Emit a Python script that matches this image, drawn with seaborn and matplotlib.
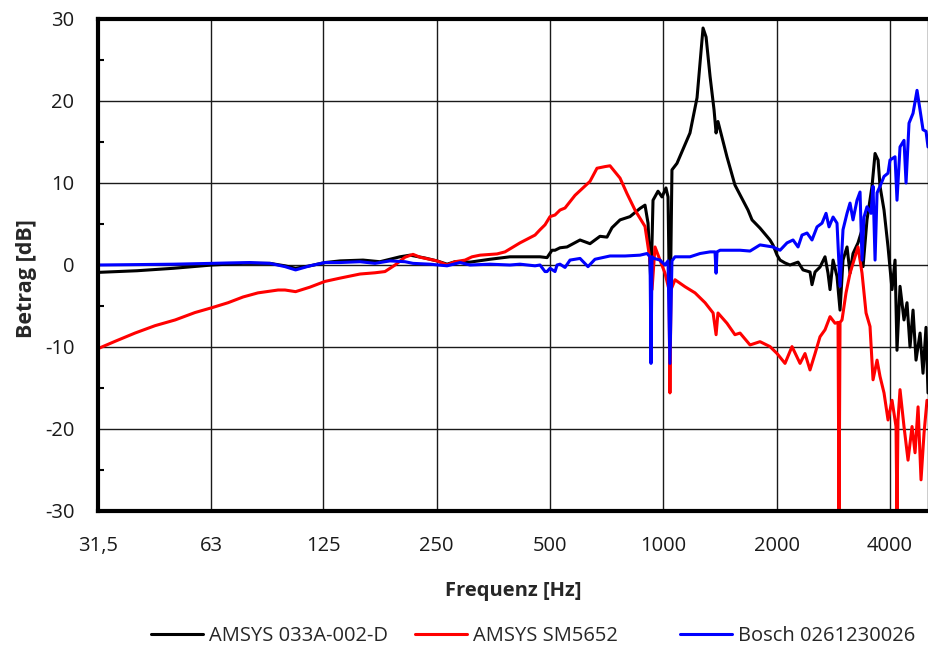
import numpy as np
import pandas as pd
import matplotlib
matplotlib.use("Agg")
import matplotlib.pyplot as plt
import seaborn as sns

# ---------------- data ----------------
freq_black = [31.5, 40, 50, 63.3, 76.5, 90.2, 98.9, 105.5, 115.2, 126.3, 138.5, 159.4,
              176.8, 199.8, 212.5, 232.9, 250.6, 266.5, 279.8, 306.7, 346.6, 391.7,
              442.8, 470.7, 491.3, 506.5, 515.9, 531.9, 555.2, 601.2, 639, 679.3, 709,
              731.1, 767.9, 816.2, 831.4, 867.8, 894.7, 911.4, 928.1, 939.6, 968.8,
              992.7, 1017, 1030, 1042, 1055, 1088, 1178, 1230, 1276, 1300, 1332, 1365,
              1382, 1398, 1477, 1551, 1680, 1722, 1808, 1922, 1957, 2007, 2044, 2107,
              2172, 2282, 2352, 2455, 2485, 2532, 2610, 2691, 2741, 2775, 2827, 2896,
              2950, 3004, 3079, 3136, 3194, 3293, 3375, 3396, 3479, 3588, 3655, 3723,
              3768, 3861, 3957, 4055, 4130, 4180, 4258, 4363, 4444, 4527, 4611, 4696,
              4813, 4901, 4992, 5053]
db_black = [-0.9, -0.7, -0.4, 0.0, 0.2, 0.2, -0.1, -0.4, -0.1, 0.3, 0.5, 0.6,
            0.4, 1.0, 1.2, 0.85, 0.5, 0.1, 0.4, 0.35, 0.7, 1.0,
            1.0, 1.0, 0.9, 1.8, 1.8, 2.1, 2.2, 3.05, 2.6, 3.5, 3.4,
            4.55, 5.5, 5.9, 6.2, 6.9, 7.3, 5.1, -2.5, 7.9, 9.0,
            8.3, 9.4, 8.3, -8.0, 11.6, 12.4, 16.1, 20.4, 28.9, 27.8, 23.0, 18.9,
            16.1, 17.5, 13.2, 9.75, 6.7, 5.5, 4.5, 3.05, 2.45, 1.2, 0.6, 0.25,
            0.0, 0.35, -0.6, -0.85, -2.4, -0.85, -0.25, 1.0, -1.0, -3.0, 0.6, -1.4,
            -5.5, 0.6, 2.2, -1.0, 1.4, 2.7, 4.3, -0.2, 5.5, 9.6, 13.6, 12.8,
            9.6, 6.7, 2.2, -3.0, 0.6, -10.4, -2.6, -6.7, -4.6, -10.0, -5.5, -11.6,
            -8.3, -13.2, -7.6, -15.6]

freq_red = [31.5, 35, 39.5, 44.65, 50.5, 57, 63.3, 69.8, 76.5, 83.8, 94.8, 98.9,
            105.5, 115.2, 126.3, 138.5, 156.5, 171.5, 182.3, 193.9, 206.1, 216.4,
            225.9, 250.6, 266.5, 279.8, 297.5, 310.5, 326.2, 361.8, 379.9, 416.4,
            456.5, 470.7, 485.3, 500.4, 515.9, 531.9, 548.4, 583.1, 639, 666.9, 700.4,
            722.2, 767.9, 801.5, 841.6, 894.7, 922.6, 933.9, 951.1, 980.6, 1011,
            1036, 1042, 1049, 1075, 1143, 1215, 1292, 1357, 1382, 1398, 1477, 1551,
            1600, 1701, 1808, 1922, 2007, 2107, 2199, 2310, 2381, 2455, 2532, 2610,
            2691, 2775, 2861, 2914, 2932, 2950, 2986, 3060, 3136, 3233, 3293, 3375,
            3459, 3544, 3610, 3700, 3768, 3861, 3957, 4055, 4155, 4180, 4205, 4258,
            4363, 4472, 4583, 4668, 4755, 4842, 4932, 5022]
db_red = [-10.2, -9.3, -8.3, -7.4, -6.7, -5.8, -5.2, -4.6, -3.9, -3.4, -3.05, -3.05,
          -3.25, -2.7, -2.0, -1.6, -1.1, -0.95, -0.8, 0.0, 0.95, 1.3,
          0.95, 0.5, 0.0, 0.4, 0.6, 1.0, 1.2, 1.35, 1.6, 2.7,
          3.65, 4.3, 4.9, 5.9, 6.1, 6.7, 6.95, 8.5, 10.2, 11.8, 12.0,
          12.1, 10.6, 8.7, 6.7, 4.7, 0.6, -3.0, 2.2, 0.6, -1.0,
          -3.0, -15.6, -3.0, -1.8, -2.65, -3.4, -4.6, -5.85, -8.5, -5.85, -7.1, -8.5,
          -8.3, -9.75, -9.35, -9.95, -10.8, -12.0, -9.95, -12.0, -10.8, -12.8, -10.8, -8.75,
          -7.9, -6.3, -7.1, -7.0, -31.0, -7.0, -6.7, -3.4, -1.0, 1.0, 2.2, -1.0,
          -5.85, -7.5, -14.0, -11.6, -13.6, -15.6, -18.9, -16.5, -19.7, -31.0, -19.0, -15.2,
          -19.7, -23.8, -19.7, -22.9, -17.3, -26.2, -20.5, -16.5]

freq_blue = [31.5, 40, 50, 63.3, 70, 79.8, 90.2, 98.9, 105.5, 115.2, 126.3, 138.5,
             156.5, 171.5, 188, 206.1, 216.4, 240.1, 266.5, 288.5, 306.7, 346.6,
             391.7, 416.4, 456.5, 470.7, 485.3, 491.3, 500.4, 515.9, 522.3, 531.9,
             548.4, 565.5, 601.2, 631.2, 658.8, 722.2, 791.6, 867.8, 905.7, 922.6,
             928.1, 933.9, 945.4, 980.6, 1011, 1030, 1042, 1055, 1075, 1178, 1253,
             1332, 1373, 1382, 1390, 1416, 1551, 1600, 1701, 1808, 1957, 2044, 2133,
             2213, 2282, 2338, 2411, 2485, 2563, 2642, 2708, 2758, 2827, 2896, 2950,
             3004, 3079, 3136, 3194, 3273, 3334, 3375, 3417, 3479, 3566, 3610, 3655,
             3700, 3768, 3861, 3957, 4005, 4130, 4180, 4258, 4363, 4418, 4499, 4611,
             4725, 4813, 4901, 4992, 5053]
db_blue = [0.0, 0.05, 0.1, 0.2, 0.25, 0.3, 0.2, -0.2, -0.6, -0.1, 0.3, 0.3,
           0.4, 0.2, 0.5, 0.4, 0.2, 0.1, -0.1, 0.3, 0.0, 0.1,
           0.0, 0.1, -0.1, 0.0, -0.8, -0.8, -0.4, -0.8, 0.0, 0.1,
           -0.3, 0.6, 0.8, -0.2, 0.7, 1.1, 1.1, 1.2, 1.4, 1.0,
           -12.0, 1.0, 0.8, 0.6, 0.0, 0.5, -12.0, 0.5, 1.0, 1.0, 1.4,
           1.6, 1.6, -1.0, 1.6, 1.8, 1.8, 1.8, 1.7, 2.45, 2.2, 1.8, 2.7,
           3.05, 2.2, 3.65, 3.9, 3.05, 4.65, 5.1, 6.3, 4.65, 5.85, 5.1, -2.6,
           4.3, 6.3, 7.55, 5.5, 7.9, 8.9, 0.6, 5.85, 7.1, 6.3, 9.6, 0.6,
           8.8, 9.6, 10.8, 11.2, 12.8, 13.2, 7.9, 14.4, 15.2, 10.0, 17.3, 18.5,
           21.3, 18.9, 16.5, 16.3, 14.4]

series_names = ["AMSYS 033A-002-D", "AMSYS SM5652", "Bosch 0261230026"]
series_colors = ["#000000", "#ff0000", "#0000ff"]

x_ticks = [31.5, 63, 125, 250, 500, 1000, 2000, 4000]
x_tick_labels = ["31,5", "63", "125", "250", "500", "1000", "2000", "4000"]
y_ticks = [-30, -20, -10, 0, 10, 20, 30]
y_tick_labels = ["-30", "-20", "-10", "0", "10", "20", "30"]

# ---------------- plotting ----------------
sns.set_theme(style="white")
plt.rcParams["font.family"] = ["Open Sans", "DejaVu Sans"]
plt.rcParams["axes.unicode_minus"] = False

FS = 14.5

fig = plt.figure(figsize=(9.29, 6.52), dpi=100)
ax = fig.add_axes([98 / 929, 1 - 511 / 652, 830 / 929, 492 / 652])

frames = [
    pd.DataFrame({"f": freq_black, "db": db_black}),
    pd.DataFrame({"f": freq_red, "db": db_red}),
    pd.DataFrame({"f": freq_blue, "db": db_blue}),
]
for df, name, col in zip(frames, series_names, series_colors):
    sns.lineplot(data=df, x="f", y="db", ax=ax, color=col, linewidth=2.2,
                 label=name, sort=False, estimator=None, legend=False)

ax.set_xscale("log")
ax.set_xlim(31.5, 5053)
ax.set_ylim(-30, 30)
ax.set_xticks(x_ticks)
ax.set_xticklabels(x_tick_labels)
ax.xaxis.set_minor_locator(matplotlib.ticker.NullLocator())
ax.set_yticks(y_ticks)
ax.set_yticklabels(y_tick_labels)
ax.set_yticks([-25, -15, -5, 5, 15, 25], minor=True)

ax.grid(True, which="major", color="#1a1a1a", linewidth=1.0)
ax.set_axisbelow(True)

ax.tick_params(axis="x", which="major", length=0, pad=18, labelsize=FS, colors="#1a1a1a")
ax.tick_params(axis="y", which="major", length=0, pad=17, labelsize=FS, colors="#1a1a1a")
ax.tick_params(axis="y", which="minor", direction="in", length=4, width=1.5,
               color="black", left=True)

for side in ["left", "bottom", "top"]:
    ax.spines[side].set_linewidth(3.0)
    ax.spines[side].set_color("black")
ax.spines["right"].set_linewidth(1.0)
ax.spines["right"].set_color("black")

ax.set_xlabel("Frequenz [Hz]", fontsize=FS, fontweight="bold", labelpad=18)
ax.set_ylabel("Betrag [dB]", fontsize=15.5, fontweight="bold")
ax.yaxis.set_label_coords((37 - 98) / 830, (511 - 279) / 492)

handles = ax.get_lines()[:3]
legend_x = [151 / 929, 415 / 929, 680 / 929]
for h, name, lx in zip(handles, series_names, legend_x):
    fig.legend([h], [name], loc="center left", bbox_to_anchor=(lx, 1 - 636 / 652),
               frameon=False, fontsize=FS, handlelength=2.6, handletextpad=0.3,
               borderpad=0, borderaxespad=0)

fig.savefig("out.png", dpi=100)
